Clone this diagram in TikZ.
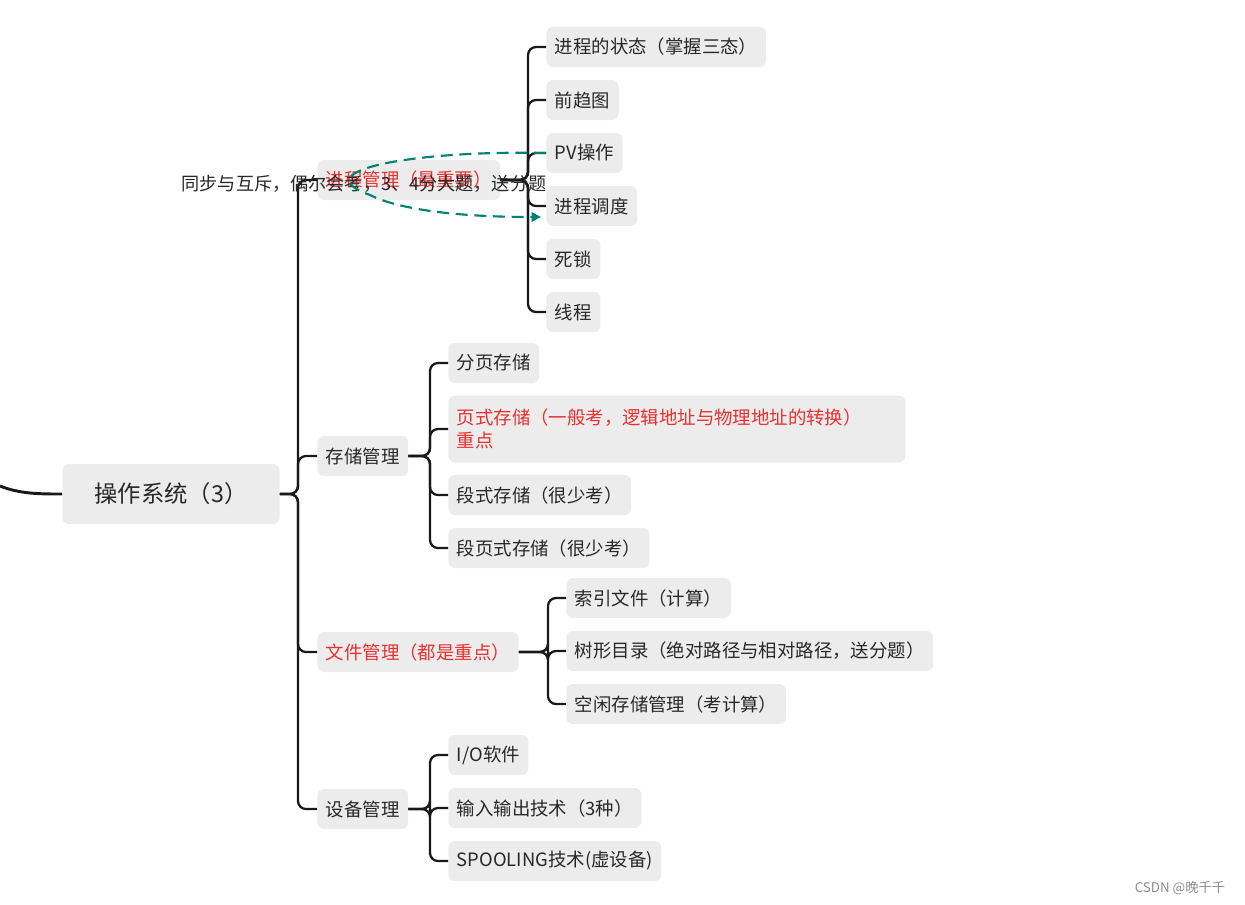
\documentclass[tikz,border=0pt]{standalone}
\usepackage{fontspec}
\setmainfont{Noto Sans CJK SC}
\usetikzlibrary{arrows.meta}
\definecolor{boxg}{RGB}{236,236,236}
\definecolor{redt}{RGB}{232,48,48}
\definecolor{teal2}{RGB}{0,130,112}
\definecolor{txt}{RGB}{40,40,40}
\tikzset{
 bx/.style={fill=boxg,rounded corners=5pt,inner xsep=6.5pt,anchor=west,minimum height=30pt,text=txt,font=\fontsize{13.8}{16}\selectfont},
 lk/.style={draw=black!90,line width=1.7pt,rounded corners=6pt},
}
\begin{document}
\begin{tikzpicture}[x=0.75pt,y=-0.75pt]
\useasboundingbox (0,0) rectangle (1245,904);
\node[bx,minimum height=45pt,inner xsep=16pt,minimum width=163pt,align=left,font=\fontsize{17.5}{20}\selectfont] (root) at (62,494) {操作系统（3）};
\draw[line width=2.2pt,black!90] (0,486) .. controls (20,494) and (40,494) .. (root.west);
% level 1
\node[bx] (p) at (317,180) {\textcolor{redt}{进程管理（最重要）}};
\node[bx] (s) at (317,456) {存储管理};
\node[bx] (f) at (317,652) {\textcolor{redt}{文件管理（都是重点）}};
\node[bx] (d) at (317,809) {设备管理};
\coordinate (t0) at (298,0);
\foreach \n in {p,s,f,d} \draw[lk] (root.east) -- (root.east -| t0) |- (\n.west);
% process
\node[bx] (p1) at (546,47) {进程的状态（掌握三态）};
\node[bx] (p2) at (546,100) {前趋图};
\node[bx] (p3) at (546,153) {PV操作};
\node[bx] (p4) at (546,206) {进程调度};
\node[bx] (p5) at (546,259) {死锁};
\node[bx] (p6) at (546,312) {线程};
\coordinate (t1) at (528,0);
\foreach \n in {p1,p2,p3,p4,p5,p6} \draw[lk] (p.east) -- (p.east -| t1) |- (\n.west);
% storage
\node[bx,minimum height=50pt,text width=440pt*0.75,align=left,font=\fontsize{13.8}{17}\selectfont] (s2) at (448,429) {\textcolor{redt}{页式存储（一般考，逻辑地址与物理地址的转换）\\重点}};
\node[bx] (s1) at (448,363) {分页存储};
\node[bx] (s3) at (448,495) {段式存储（很少考）};
\node[bx] (s4) at (448,548) {段页式存储（很少考）};
\coordinate (t2) at (430,0);
\foreach \n in {s1,s2,s3,s4} \draw[lk] (s.east) -- (s.east -| t2) |- (\n.west);
% file
\node[bx] (f1) at (566,598) {索引文件（计算）};
\node[bx] (f2) at (566,651) {树形目录（绝对路径与相对路径，送分题）};
\node[bx] (f3) at (566,704) {空闲存储管理（考计算）};
\coordinate (t3) at (548,0);
\foreach \n in {f1,f2,f3} \draw[lk] (f.east) -- (f.east -| t3) |- (\n.west);
% device
\node[bx] (d1) at (448,755) {I/O软件};
\node[bx] (d2) at (448,808) {输入输出技术（3种）};
\node[bx] (d3) at (448,861) {SPOOLING技术(虚设备)};
\foreach \n in {d1,d2,d3} \draw[lk] (d.east) -- (d.east -| t2) |- (\n.west);
% note
\node[text=txt,font=\fontsize{13.6}{15}\selectfont] (note) at (364,184) {同步与互斥，偶尔会考，3、4分大题，送分题};
\coordinate (ae) at (541,217);
\draw[teal2,line width=1.6pt,dash pattern=on 9pt off 5pt,-{Triangle[length=7pt,width=7pt]}]
 (p3.west) .. controls (420,150) and (300,170) .. (370,195) .. controls (400,210) and (460,217) .. (ae);
\node[text=black!45,font=\fontsize{10}{12}\selectfont] (wm) at (1180,888) {CSDN @晚千千};
\end{tikzpicture}
\end{document}
